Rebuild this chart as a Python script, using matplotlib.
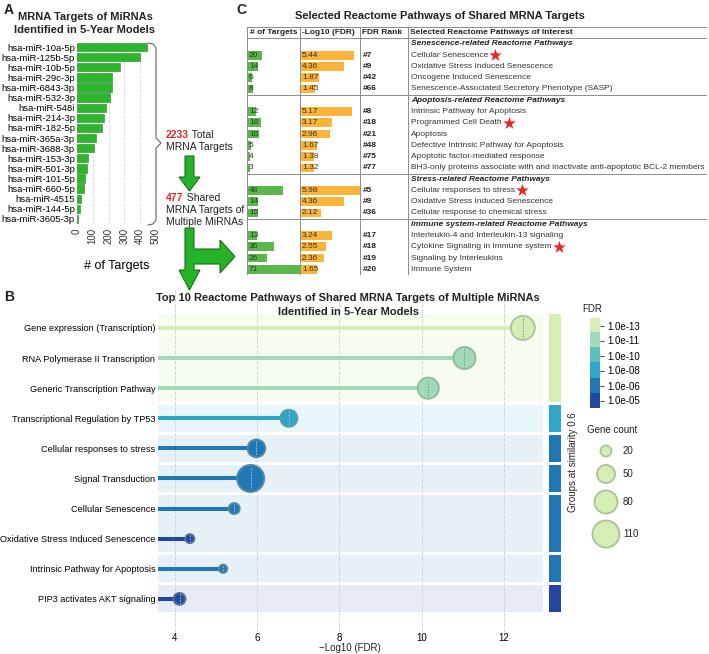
import numpy as np
import matplotlib.pyplot as plt
from matplotlib.colors import ListedColormap, to_rgb
from matplotlib.patches import Polygon

plt.rcParams['font.family'] = ['Liberation Sans', 'DejaVu Sans']
plt.rcParams['text.color'] = '#222222'

# ---------------- panel A data
mirnas = ["hsa-miR-10a-5p", "hsa-miR-125b-5p", "hsa-miR-10b-5p", "hsa-miR-29c-3p",
          "hsa-miR-6843-3p", "hsa-miR-532-3p", "hsa-miR-548i", "hsa-miR-214-3p",
          "hsa-miR-182-5p", "hsa-miR-365a-3p", "hsa-miR-3688-3p", "hsa-miR-153-3p",
          "hsa-miR-501-3p", "hsa-miR-101-5p", "hsa-miR-660-5p", "hsa-miR-4515",
          "hsa-miR-144-5p", "hsa-miR-3605-3p"]
mirna_targets = [442, 400, 272, 221, 220, 208, 183, 172, 157, 119, 108, 70, 64, 51, 47, 28, 21, 9]
total_targets = 2233
shared_targets = 477

# ---------------- panel B data
pathways = ["Gene expression (Transcription)", "RNA Polymerase II Transcription",
            "Generic Transcription Pathway", "Transcriptional Regulation by TP53",
            "Cellular responses to stress", "Signal Transduction", "Cellular Senescence",
            "Oxidative Stress Induced Senescence", "Intrinsic Pathway for Apoptosis",
            "PIP3 activates AKT signaling"]
neg_log_fdr = [12.46, 11.04, 10.16, 6.77, 5.98, 5.84, 5.44, 4.36, 5.17, 4.11]
gene_count = [87, 74, 68, 45, 48, 110, 20, 14, 12, 23]
fdr_bin = [0, 1, 1, 3, 4, 4, 4, 5, 4, 5]
group_id = [0, 0, 0, 1, 2, 3, 4, 4, 5, 6]
group_bin = [0, 3, 4, 4, 4, 4, 5]
fdr_labels = ["1.0e-13", "1.0e-11", "1.0e-10", "1.0e-08", "1.0e-06", "1.0e-05"]
fdr_colors = ["#d5eeb3", "#a0dab8", "#5cc0c0", "#2fa5c7", "#1f78b4", "#2347a0"]
legend_counts = [20, 50, 80, 110]

# ---------------- panel C data
table_header = ["# of Targets", "-Log10 (FDR)", "FDR Rank", "Selected Reactome Pathways of Interest"]
table_groups = ["Senescence-related Reactome Pathways", "Apoptosis-related Reactome Pathways",
                "Stress-related Reactome Pathways", "Immune system-related Reactome Pathways"]
table_group_sizes = [4, 6, 3, 4]
table_targets = [20, 14, 6, 8, 12, 18, 16, 5, 4, 3, 48, 14, 15, 13, 36, 26, 71]
table_logfdr = [5.44, 4.36, 1.87, 1.45, 5.17, 3.17, 2.96, 1.67, 1.38, 1.32,
                5.98, 4.36, 2.12, 3.24, 2.55, 2.36, 1.65]
table_rank = [7, 9, 42, 66, 8, 18, 21, 48, 75, 77, 5, 9, 36, 17, 18, 19, 20]
table_names = ["Cellular Senescence", "Oxidative Stress Induced Senescence",
               "Oncogene Induced Senescence", "Senescence-Associated Secretory Phenotype (SASP)",
               "Intrinsic Pathway for Apoptosis", "Programmed Cell Death", "Apoptosis",
               "Defective Intrinsic Pathway for Apoptosis", "Apoptotic factor-mediated response",
               "BH3-only proteins associate with and inactivate anti-apoptotic BCL-2 members",
               "Cellular responses to stress", "Oxidative Stress Induced Senescence",
               "Cellular response to chemical stress", "Interleukin-4 and Interleukin-13 signaling",
               "Cytokine Signaling in Immune system", "Signaling by Interleukins", "Immune System"]
table_star = ["Cellular Senescence", "Programmed Cell Death", "Cellular responses to stress",
              "Cytokine Signaling in Immune system"]

W, H = 709, 654


def box(l, t, r, b):
    return [l / W, 1 - b / H, (r - l) / W, (b - t) / H]


def blend(c1, c2, f):
    a, b = np.array(to_rgb(c1)), np.array(to_rgb(c2))
    return tuple(a * (1 - f) + b * f)


def size_pt2(c):
    # circle diameter^2 in px grows linearly with gene count
    d2 = 6.76 * np.asarray(c, dtype=float) - 14
    return d2 * 0.72 ** 2


fig = plt.figure(figsize=(W / 100, H / 100), dpi=100)
over = fig.add_axes([0, 0, 1, 1])
over.set_xlim(0, W)
over.set_ylim(H, 0)
over.axis('off')
renderer = fig.canvas.get_renderer()


def ftext(x, y, s, **kw):
    return fig.text(x / W, 1 - y / H, s, **kw)


def text_after(ax, t, s, **kw):
    bb = t.get_window_extent(renderer=renderer)
    x, _ = ax.transData.inverted().transform((bb.x1, bb.y0))
    return ax.text(x, t.get_position()[1], s, **kw)


# ---------------- panel letters / titles
ftext(4, 10, "A", fontsize=10, fontweight='bold', va='center')
ftext(236, 10, "C", fontsize=10, fontweight='bold', va='center')
ftext(4, 297, "B", fontsize=10, fontweight='bold', va='center')
ftext(85, 17, "MRNA Targets of MiRNAs", fontsize=8, fontweight='bold', ha='center', va='center')
ftext(85, 30, "Identified in 5-Year Models", fontsize=8, fontweight='bold', ha='center', va='center')
ftext(440, 16, "Selected Reactome Pathways of Shared MRNA Targets", fontsize=8,
      fontweight='bold', ha='center', va='center')
ftext(348, 298, "Top 10 Reactome Pathways of Shared MRNA Targets of Multiple MiRNAs",
      fontsize=8, fontweight='bold', ha='center', va='center')
ftext(348, 312, "Identified in 5-Year Models", fontsize=8, fontweight='bold',
      ha='center', va='center')

# ---------------- panel A
axA = fig.add_axes(box(77, 42, 156, 224))
axA.patch.set_visible(False)
yA = np.arange(len(mirnas))
axA.barh(yA, mirna_targets, height=0.82, color='#2db52d', edgecolor='#1d8a1d', lw=0.4, zorder=2)
axA.set_ylim(len(mirnas) - 0.5, -0.5)
axA.set_xlim(0, 500)
axA.set_xticks(range(0, 501, 100))
axA.set_xticklabels([str(v) for v in range(0, 501, 100)], rotation=90, fontsize=7, color='#333333')
axA.set_yticks(yA)
axA.set_yticklabels(mirnas, fontsize=6.8)
axA.tick_params(length=0, pad=1.5)
axA.tick_params(axis='x', pad=3)
axA.grid(axis='x', linestyle='--', color='#d5d5d5', lw=0.6, zorder=0)
for sp in axA.spines.values():
    sp.set_visible(False)
axA.set_xlabel("# of Targets", fontsize=9, labelpad=11)

# bracket and flow annotations
over.plot([148, 153, 156, 156, 161, 156, 156, 153, 148],
          [43, 44, 48, 138, 143, 148, 220, 224, 225], color='#666666', lw=0.8)
t = over.text(166, 135, f"{total_targets}", color='#e3262b', fontsize=7.5, fontweight='bold', va='center')
text_after(over, t, " Total", fontsize=7.5, va='center')
over.text(166, 147, "MRNA Targets", fontsize=7.5, va='center')
t = over.text(166, 198, f"{shared_targets}", color='#e3262b', fontsize=7.5, fontweight='bold', va='center')
text_after(over, t, " Shared", fontsize=7.5, va='center')
over.text(166, 210, "MRNA Targets of", fontsize=7.5, va='center')
over.text(166, 222, "Multiple MiRNAs", fontsize=7.5, va='center')

arrow_kw = dict(closed=True, facecolor='#27b327', edgecolor='#17701a', lw=0.8)
over.add_patch(Polygon([(185, 156), (194, 156), (194, 177), (200, 177), (189.5, 191),
                        (179, 177), (185, 177)], **arrow_kw))
over.add_patch(Polygon([(185, 228), (194, 228), (194, 249), (220, 249), (220, 240),
                        (235, 256.5), (220, 273), (220, 264), (194, 264), (194, 270),
                        (200, 270), (189.5, 290), (179, 270), (185, 270)], **arrow_kw))

# ---------------- panel C table
axT = fig.add_axes(box(247, 27, 707, 275))
n_rows = 1 + len(table_groups) + len(table_targets)
axT.set_xlim(0, 460)
axT.set_ylim(n_rows, 0)
axT.axis('off')
edges = [0, 53, 113, 161, 460]
fs_t = 6.0
for j, h in enumerate(table_header):
    axT.text(edges[j] + 2.5, 0.5, h, fontsize=fs_t, fontweight='bold', va='center')
max_t = max(table_targets)
max_f = max(table_logfdr)
row = 1
k = 0
sep_rows = [1]
for g, gname in enumerate(table_groups):
    if g > 0:
        sep_rows.append(row)
    axT.text(edges[3] + 3, row + 0.5, gname, fontsize=fs_t, fontweight='bold',
             fontstyle='italic', va='center')
    row += 1
    for _ in range(table_group_sizes[g]):
        yc = row + 0.5
        axT.barh(yc, table_targets[k] / max_t * (edges[1] - edges[0] - 1), left=edges[0] + 0.5,
                 height=0.78, color='#5ab84a', lw=0)
        axT.barh(yc, table_logfdr[k] / max_f * (edges[2] - edges[1] - 1), left=edges[1] + 0.5,
                 height=0.78, color='#fbb33a', lw=0)
        axT.text(edges[0] + 2, yc, str(table_targets[k]), fontsize=fs_t, va='center', color='#2a3a2a')
        axT.text(edges[1] + 2, yc, f"{table_logfdr[k]:.2f}", fontsize=fs_t, va='center', color='#3a3020')
        axT.text(edges[2] + 3, yc, f"#{table_rank[k]}", fontsize=fs_t, fontweight='bold', va='center')
        tn = axT.text(edges[3] + 3, yc, table_names[k], fontsize=fs_t, va='center', color='#333333')
        if table_names[k] in table_star and (table_names[k] != "Oxidative Stress Induced Senescence"):
            bb = tn.get_window_extent(renderer=renderer)
            xs, _ = axT.transData.inverted().transform((bb.x1, bb.y0))
            axT.scatter([xs + 7], [yc], marker='*', s=95, color='#e8262b', lw=0, zorder=4)
        row += 1
        k += 1
lc = '#8c8c8c'
for x in edges:
    axT.plot([x, x], [0, n_rows], color=lc, lw=0.7)
axT.plot([0, 460], [0, 0], color=lc, lw=0.7)
axT.plot([0, 460], [n_rows, n_rows], color=lc, lw=0.7)
for r in sep_rows:
    axT.plot([0, 460], [r, r], color=lc, lw=0.7)

# ---------------- panel B lollipop
axB = fig.add_axes(box(158, 290, 543, 632))
axB.patch.set_visible(False)
xmin_b, xmax_b = 3.587, 12.95
axB.set_xlim(xmin_b, xmax_b)
axB.set_ylim(10.1, -1.26)
yB = np.arange(len(pathways))
gap = 0.05
for g in range(max(group_id) + 1):
    rows_g = [i for i in yB if group_id[i] == g]
    col = fdr_colors[group_bin[g]]
    f = 0.2 if group_bin[g] == 0 else 0.11
    axB.axhspan(min(rows_g) - 0.5 + gap, max(rows_g) + 0.5 - gap,
                color=blend('white', col, f), lw=0, zorder=0.5)
axB.set_xticks([4, 6, 8, 10, 12])
axB.grid(axis='x', linestyle='--', color='#cfd3d8', lw=0.7)
axB.set_yticks(yB)
axB.set_yticklabels(pathways, fontsize=6.6)
axB.tick_params(length=0)
axB.tick_params(axis='x', pad=0.5, labelsize=7)
axB.tick_params(axis='y', pad=2)
for sp in axB.spines.values():
    sp.set_visible(False)
ftext(350, 648, "\u2212Log10 (FDR)", fontsize=7, ha='center', va='center')
line_cols = [fdr_colors[b] for b in fdr_bin]
axB.hlines(yB, xmin_b, neg_log_fdr, colors=line_cols, lw=2.9, zorder=2)
edge_cols = [blend(c, '#8a988a', 0.5) for c in line_cols]
axB.scatter(neg_log_fdr, yB, s=size_pt2(gene_count), c=line_cols, edgecolors=edge_cols,
            linewidths=1.4, zorder=3)
px_per_row = (632 - 290) / (10.1 + 1.26)
for i in yB:
    r = np.sqrt(size_pt2(gene_count[i])) / 0.72 / 2 / px_per_row * 0.8
    dc = '#7d927d' if fdr_bin[i] <= 1 else '#a8cfe6'
    axB.plot([neg_log_fdr[i]] * 2, [i - r, i + r], color=dc, lw=0.6, ls=(0, (2, 1.5)), zorder=4)

# group blocks
axG = fig.add_axes(box(549, 290, 561, 632))
axG.set_ylim(10.1, -1.26)
axG.set_xlim(0, 1)
axG.axis('off')
for g in range(max(group_id) + 1):
    rows_g = [i for i in yB if group_id[i] == g]
    axG.axhspan(min(rows_g) - 0.5 + gap, max(rows_g) + 0.5 - gap, color=fdr_colors[group_bin[g]], lw=0)
ftext(573, 462, "Groups at similarity 0.6", rotation=90, fontsize=7, ha='center', va='center')

# FDR colour legend
axC = fig.add_axes(box(590, 318, 600, 408))
axC.imshow(np.arange(len(fdr_colors))[:, None], cmap=ListedColormap(fdr_colors), aspect='auto',
           extent=(0, 1, len(fdr_colors), 0))
axC.set_xticks([])
axC.set_yticks(np.arange(len(fdr_labels)) + 0.5)
axC.set_yticklabels(fdr_labels, fontsize=7)
axC.yaxis.tick_right()
axC.tick_params(axis='y', length=3, width=0.7, color='#444444', pad=2)
for sp in axC.spines.values():
    sp.set_visible(False)
ftext(592, 309, "FDR", fontsize=7, ha='center', va='center')

# gene count legend
ftext(612, 430, "Gene count", fontsize=7, ha='center', va='center')
leg_y = [451, 474, 502, 534]
over.scatter([606] * len(legend_counts), leg_y, s=size_pt2(legend_counts), c=fdr_colors[0],
             edgecolors=blend(fdr_colors[0], '#8a988a', 0.5), linewidths=1.4)
for c, yy in zip(legend_counts, leg_y):
    over.text(623, yy, str(c), fontsize=7, va='center')

fig.savefig("out.png", dpi=100)
